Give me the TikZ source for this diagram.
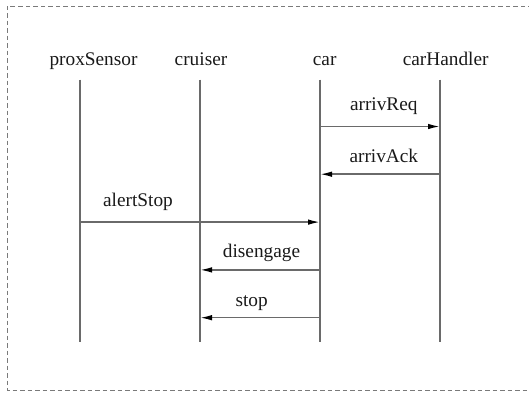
\documentclass[tikz,border=0pt]{standalone}
\usepackage{fontspec}
\setmainfont{Liberation Serif}
\usetikzlibrary{arrows.meta}
\definecolor{lifegray}{HTML}{6A6A6A}
\definecolor{framegray}{HTML}{7A7A7A}
\tikzset{
  actor/.style={anchor=base, inner sep=0pt, font=\fontsize{19.3}{22}\selectfont, text=black!90},
  msglabel/.style={anchor=base, inner sep=0pt, font=\fontsize{19.3}{22}\selectfont, text=black!90},
  lifeline/.style={draw=lifegray, line width=1.6pt},
  msg/.style={draw=lifegray, line width=1.5pt, -{Latex[length=12pt,width=5.5pt,color=black]}},
  frame/.style={draw=framegray, line width=1pt, dash pattern=on 4.5pt off 3pt}
}
\begin{document}
\begin{tikzpicture}[x=1pt,y=-1pt]
  \useasboundingbox (0,0) rectangle (529,392);
  % dashed frame (right side runs off the page)
  \draw[frame] (540,6) -- (7,6) -- (7,390) -- (540,390);

  % participant names
  \node[actor] (nProx) at (93.5,65) {proxSensor};
  \node[actor] (nCru)  at (201,65)  {cruiser};
  \node[actor] (nCar)  at (324.7,65) {car};
  \node[actor] (nHand) at (445.7,65) {carHandler};

  % lifelines
  \coordinate (proxT) at (80,79.5);  \coordinate (proxB) at (80,341.7);
  \coordinate (cruT)  at (200,79.5); \coordinate (cruB)  at (200,341.7);
  \coordinate (carT)  at (320,79.5); \coordinate (carB)  at (320,341.7);
  \coordinate (handT) at (440,79.5); \coordinate (handB) at (440,341.7);
  \draw[lifeline] (proxT) -- (proxB);
  \draw[lifeline] (cruT) -- (cruB);
  \draw[lifeline] (carT) -- (carB);
  \draw[lifeline] (handT) -- (handB);

  % message levels
  \coordinate (m1) at (0,126.5);
  \coordinate (m2) at (0,174.2);
  \coordinate (m3) at (0,222.1);
  \coordinate (m4) at (0,269.9);
  \coordinate (m5) at (0,317.7);

  % messages
  \draw[msg] (carT |- m1) -- (handT |- m1);
  \node[msglabel] (lReq) at (383.8,110.5) {arrivReq};

  \draw[msg] (handT |- m2) -- (carT |- m2);
  \node[msglabel] (lAck) at (383.8,162) {arrivAck};

  \draw[msg] (proxT |- m3) -- (carT |- m3);
  \node[msglabel] (lAlert) at (138,206) {alertStop};

  \draw[msg] (carT |- m4) -- (cruT |- m4);
  \node[msglabel] (lDis) at (261.5,257) {disengage};

  \draw[msg] (carT |- m5) -- (cruT |- m5);
  \node[msglabel] (lStop) at (251.7,306.5) {stop};
\end{tikzpicture}
\end{document}
